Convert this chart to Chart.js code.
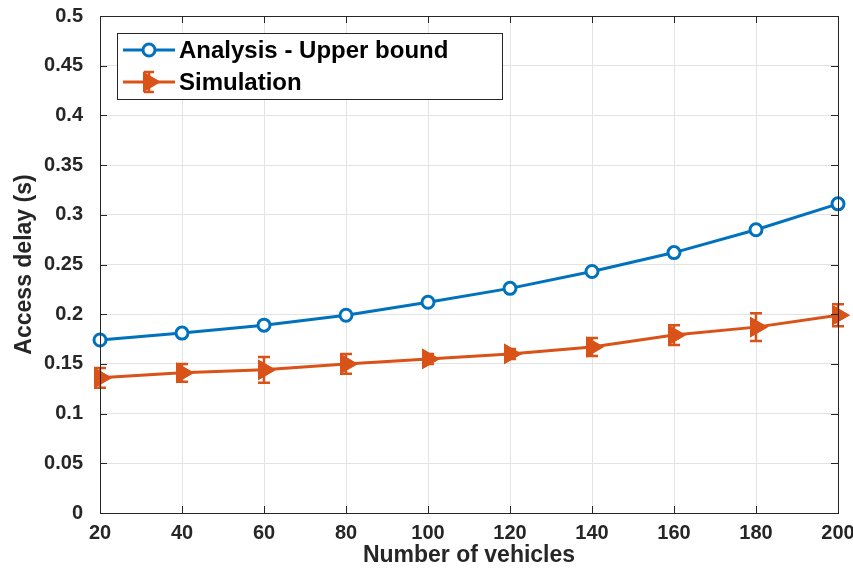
<!DOCTYPE html>
<html>
<head>
<meta charset="utf-8">
<script src="https://cdn.jsdelivr.net/npm/chart.js@4/dist/chart.umd.min.js"></script>
<style>
  html, body { margin: 0; padding: 0; background: #fff; }
  #wrap { width: 853px; height: 571px; }
</style>
</head>
<body>
<div id="wrap"><canvas id="delayChart" width="853" height="571"></canvas></div>
<script>
'use strict';

const vehicles = [20, 40, 60, 80, 100, 120, 140, 160, 180, 200];
const analysisDelay = [0.174, 0.181, 0.189, 0.199, 0.212, 0.226, 0.243, 0.262, 0.285, 0.311];
const simulationDelay = [0.136, 0.141, 0.144, 0.150, 0.155, 0.160, 0.167, 0.179, 0.187, 0.199];
const simulationError = [0.010, 0.009, 0.013, 0.010, 0.005, 0.005, 0.009, 0.010, 0.014, 0.011];
const yTickLabels = ['0', '0.05', '0.1', '0.15', '0.2', '0.25', '0.3', '0.35', '0.4', '0.45', '0.5'];

const BLUE = '#0072BD';
const ORANGE = '#D95319';
const AXIS = '#262626';
const FONT = '"Liberation Sans", Arial, sans-serif';

// error bars, box, inward ticks and the in-plot legend
const matlabLook = {
    id: 'matlabLook',
    afterDatasetsDraw(chart) {
        const ctx = chart.ctx;
        const xs = chart.scales.x;
        const ys = chart.scales.y;
        const meta = chart.getDatasetMeta(1);

        ctx.save();
        ctx.strokeStyle = ORANGE;
        ctx.lineWidth = 2.5;
        simulationDelay.forEach((v, i) => {
            const px = xs.getPixelForValue(vehicles[i]);
            const top = ys.getPixelForValue(v + simulationError[i]);
            const bot = ys.getPixelForValue(v - simulationError[i]);
            ctx.beginPath();
            ctx.moveTo(px, top); ctx.lineTo(px, bot);
            ctx.moveTo(px - 6, top); ctx.lineTo(px + 6, top);
            ctx.moveTo(px - 6, bot); ctx.lineTo(px + 6, bot);
            ctx.stroke();
        });
        ctx.restore();
        // redraw triangles over the bars
        meta.data.forEach(p => p.draw(ctx, chart.chartArea));
    },
    afterDraw(chart) {
        const ctx = chart.ctx;
        const a = chart.chartArea;
        const xs = chart.scales.x;
        const ys = chart.scales.y;

        ctx.save();
        ctx.strokeStyle = AXIS;
        ctx.lineWidth = 1;
        ctx.strokeRect(Math.round(a.left) + 0.5, Math.round(a.top) + 0.5,
            Math.round(a.right - a.left), Math.round(a.bottom - a.top));
        ctx.beginPath();
        vehicles.forEach(v => {
            const px = Math.round(xs.getPixelForValue(v)) + 0.5;
            ctx.moveTo(px, a.bottom); ctx.lineTo(px, a.bottom - 7);
            ctx.moveTo(px, a.top); ctx.lineTo(px, a.top + 7);
        });
        yTickLabels.forEach((t, i) => {
            const py = Math.round(ys.getPixelForValue(i * 0.05)) + 0.5;
            ctx.moveTo(a.left, py); ctx.lineTo(a.left + 7, py);
            ctx.moveTo(a.right, py); ctx.lineTo(a.right - 7, py);
        });
        ctx.stroke();

        // legend
        const lx = 117, ly = 33, lw = 385, lh = 66;
        ctx.fillStyle = '#fff';
        ctx.fillRect(lx, ly, lw, lh);
        ctx.strokeStyle = AXIS;
        ctx.strokeRect(lx + 0.5, ly + 0.5, lw, lh);
        ctx.font = 'bold 24px ' + FONT;
        ctx.textBaseline = 'middle';
        chart.data.datasets.forEach((ds, i) => {
            const rowY = ly + 17 + i * 32;
            ctx.strokeStyle = ds.borderColor;
            ctx.lineWidth = 3;
            ctx.beginPath();
            ctx.moveTo(lx + 6, rowY); ctx.lineTo(lx + 58, rowY);
            ctx.stroke();
            if (i === 1) {
                ctx.lineWidth = 2.5;
                ctx.beginPath();
                ctx.moveTo(lx + 32, rowY - 10); ctx.lineTo(lx + 32, rowY + 10);
                ctx.moveTo(lx + 27, rowY - 10); ctx.lineTo(lx + 37, rowY - 10);
                ctx.moveTo(lx + 27, rowY + 10); ctx.lineTo(lx + 37, rowY + 10);
                ctx.stroke();
            }
            ctx.fillStyle = ds.pointBackgroundColor;
            ctx.strokeStyle = ds.pointBorderColor;
            ctx.lineWidth = ds.pointBorderWidth;
            Chart.helpers.drawPoint(ctx, {
                pointStyle: ds.pointStyle,
                rotation: ds.pointRotation || 0,
                radius: ds.pointRadius,
                borderWidth: ds.pointBorderWidth
            }, lx + 32, rowY);
            ctx.fillStyle = '#000';
            ctx.fillText(ds.label, lx + 62, rowY + 1);
        });
        ctx.restore();
    }
};

new Chart(document.getElementById('delayChart'), {
    type: 'line',
    data: {
        datasets: [
            {
                label: 'Analysis - Upper bound',
                data: vehicles.map((v, i) => ({ x: v, y: analysisDelay[i] })),
                borderColor: BLUE,
                backgroundColor: '#fff',
                borderWidth: 3,
                pointStyle: 'circle',
                pointRadius: 6,
                pointBorderWidth: 3,
                pointBackgroundColor: '#fff',
                pointBorderColor: BLUE
            },
            {
                label: 'Simulation',
                data: vehicles.map((v, i) => ({ x: v, y: simulationDelay[i] })),
                borderColor: ORANGE,
                backgroundColor: ORANGE,
                borderWidth: 3,
                pointStyle: 'triangle',
                pointRotation: 90,
                pointRadius: 10,
                pointBorderWidth: 2,
                pointBackgroundColor: ORANGE,
                pointBorderColor: ORANGE
            }
        ]
    },
    options: {
        responsive: false,
        animation: false,
        clip: false,
        layout: { padding: { top: 16, right: 15, left: 0, bottom: 0 } },
        plugins: {
            legend: { display: false },
            tooltip: { enabled: false }
        },
        scales: {
            x: {
                type: 'linear',
                min: 20,
                max: 200,
                afterFit(s) {
                    s.height = 58;
                    s.paddingLeft = 0;
                    s.paddingRight = 0;
                },
                afterBuildTicks(s) { s.ticks = vehicles.map(v => ({ value: v })); },
                grid: { color: '#e3e3e3', drawTicks: false },
                border: { display: false },
                ticks: {
                    color: AXIS,
                    padding: 8,
                    maxRotation: 0,
                    font: { family: FONT, size: 20, weight: 'bold' }
                },
                title: {
                    display: true,
                    text: 'Number of vehicles',
                    color: AXIS,
                    padding: { top: 0, bottom: 2 },
                    font: { family: FONT, size: 23, weight: 'bold' }
                }
            },
            y: {
                min: 0,
                max: 0.5,
                afterFit(s) {
                    s.width = 100;
                    s.paddingTop = 0;
                    s.paddingBottom = 0;
                },
                afterBuildTicks(s) { s.ticks = yTickLabels.map((t, i) => ({ value: i * 0.05 })); },
                grid: { color: '#e3e3e3', drawTicks: false },
                border: { display: false },
                ticks: {
                    color: AXIS,
                    padding: 17,
                    font: { family: FONT, size: 20, weight: 'bold' },
                    callback: (v, i) => yTickLabels[i]
                },
                title: {
                    display: true,
                    text: 'Access delay (s)',
                    color: AXIS,
                    padding: { top: 11, bottom: 0 },
                    font: { family: FONT, size: 23, weight: 'bold' }
                }
            }
        }
    },
    plugins: [matlabLook]
});
</script>
</body>
</html>
